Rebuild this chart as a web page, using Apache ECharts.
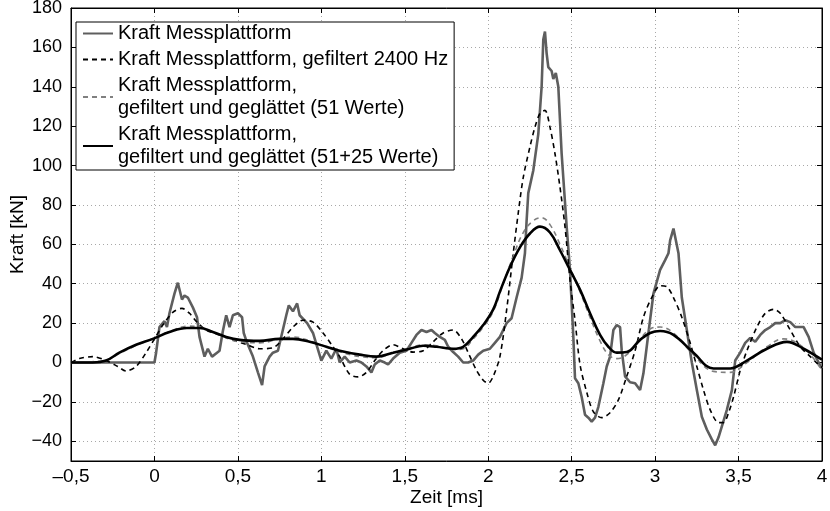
<!DOCTYPE html>
<html><head><meta charset="utf-8">
<script src="https://cdn.jsdelivr.net/npm/echarts@6/dist/echarts.min.js"></script>
<style>html,body{margin:0;padding:0;background:#fff}#c{width:830px;height:511px}</style>
</head><body><div id="c"></div>
<script>
// ---- Data ----
const seriesNames = [
  "Kraft Messplattform",
  "Kraft Messplattform, gefiltert 2400 Hz",
  "Kraft Messplattform,\ngefiltert und geglättet (51 Werte)",
  "Kraft Messplattform,\ngefiltert und geglättet (51+25 Werte)"
];
const yTicks = [-40,-20,0,20,40,60,80,100,120,140,160,180];

const rawX = [-0.5,-0.3,-0.1,0.0,0.01,0.03,0.06,0.075,0.09,0.12,0.14,0.165,0.18,0.2,0.23,0.255,0.27,0.30,0.32,0.345,0.375,0.39,0.41,0.43,0.45,0.47,0.50,0.525,0.535,0.555,0.59,0.62,0.645,0.66,0.69,0.71,0.74,0.765,0.79,0.805,0.83,0.855,0.87,0.915,0.95,0.975,1.0,1.03,1.06,1.09,1.11,1.14,1.17,1.21,1.24,1.27,1.30,1.32,1.35,1.38,1.40,1.43,1.47,1.51,1.54,1.57,1.60,1.63,1.66,1.68,1.71,1.74,1.76,1.79,1.82,1.85,1.88,1.91,1.94,1.97,2.01,2.04,2.07,2.11,2.14,2.17,2.20,2.22,2.23,2.24,2.27,2.30,2.32,2.33,2.34,2.35,2.36,2.38,2.39,2.405,2.42,2.44,2.47,2.49,2.51,2.52,2.54,2.56,2.58,2.60,2.62,2.64,2.66,2.69,2.71,2.73,2.75,2.77,2.79,2.80,2.82,2.85,2.88,2.91,2.93,2.96,2.99,3.03,3.06,3.08,3.09,3.11,3.12,3.14,3.16,3.19,3.22,3.25,3.28,3.31,3.34,3.36,3.38,3.43,3.46,3.48,3.51,3.54,3.57,3.60,3.63,3.66,3.69,3.72,3.75,3.78,3.81,3.84,3.89,3.92,3.95,3.98,4.0];
const rawY = [0,0,0,0,5,18,21,18,25,35,40.5,32,34,33,28,23,13,3,7,3,5,6,16,24,18,24,25,23,15,10,3,-5,-11.5,-2,3,5,6,15,24,29,26,30,24,20,15,8,1,6,2,7,0,3,0,1,0,-2,-5,-1,1,0,-1,2,5,6,10,14,16.5,15.5,16.5,15,13,11.5,8,5.3,3,0,0,1,4,6,7,10,13,20,22.5,33,43,55.5,72,86,97.5,116,140,164,168,157,150,148,144,147,140,106,69,47,13,-8,-10.5,-17.5,-26.5,-28,-30,-28,-22.5,-10.5,-2,3,16.5,19,18,6,-7,-10,-10.5,-14,-5.5,15,35,47,52,55.5,62,68,69,55.5,33,16.5,0,-14,-27.5,-34,-39,-42,-38,-24,-14,1,5,10,12.5,10.5,14,16.5,18,20,20,21.5,20.5,18,18,13,5,0,-3];

const f2400X = [-0.5,-0.45,-0.37,-0.29,-0.22,-0.17,-0.11,-0.05,0.0,0.05,0.11,0.165,0.21,0.255,0.31,0.39,0.47,0.555,0.63,0.71,0.77,0.83,0.89,0.95,1.01,1.07,1.11,1.17,1.22,1.27,1.32,1.37,1.43,1.49,1.55,1.61,1.67,1.73,1.79,1.84,1.88,1.93,1.97,2.0,2.03,2.07,2.11,2.15,2.18,2.21,2.25,2.28,2.31,2.34,2.37,2.40,2.43,2.46,2.49,2.52,2.55,2.59,2.63,2.68,2.73,2.78,2.83,2.88,2.93,2.98,3.03,3.07,3.11,3.16,3.21,3.25,3.29,3.33,3.38,3.41,3.44,3.47,3.51,3.55,3.61,3.66,3.71,3.75,3.81,3.87,3.93,3.99,4.0];
const f2400Y = [0,2,3,1,-2,-4.3,-2,5,12,19,25.5,27.5,25,20.5,16.5,14,11.5,9,7,7.5,12,18,21.5,20.5,15,8,3,-6,-7.3,-5,1,6,9,7,5.3,6,10.5,15,16.5,12,5,-4,-9,-10.5,-7,3,26.5,55.5,76,94,109.5,119.5,126.5,128,119.5,106,89,69,42,21.5,-1,-15,-25,-28,-25.5,-19,-7,6,23,33,39,38.5,33,23,10,-2,-14,-24,-30.5,-30.5,-25.5,-17.5,-4,6,18,25,27,25,16.5,8,3,-2,-2.5];

const s51X = [-0.5,-0.3,-0.2,-0.1,0.0,0.1,0.2,0.27,0.35,0.43,0.51,0.63,0.75,0.83,0.93,1.03,1.11,1.23,1.33,1.43,1.53,1.61,1.69,1.79,1.85,1.91,1.97,2.03,2.09,2.15,2.21,2.27,2.32,2.37,2.43,2.49,2.55,2.61,2.67,2.72,2.77,2.83,2.91,2.97,3.03,3.11,3.23,3.35,3.45,3.55,3.67,3.77,3.89,4.0];
const s51Y = [0,1,5,9,12.5,16,18.5,18,15.5,12.5,10.5,10,12,13,11,8,5.5,3,2.5,5,7.5,9,8.5,6.5,7,12,18,26,40,54,66,72,73.5,70,60,48,36,23,11,4,2,4,12,17,18,15,4,-4.5,-5,0,8,12,7.5,-4];

const s76X = [-0.5,-0.37,-0.29,-0.21,-0.11,-0.01,0.09,0.195,0.27,0.35,0.43,0.51,0.63,0.75,0.83,0.93,1.03,1.11,1.23,1.33,1.43,1.53,1.61,1.69,1.79,1.85,1.91,1.97,2.03,2.07,2.13,2.19,2.25,2.31,2.37,2.43,2.49,2.55,2.61,2.67,2.72,2.77,2.83,2.91,2.97,3.03,3.11,3.23,3.35,3.45,3.55,3.67,3.79,3.89,3.99,4.0];
const s76Y = [0,0,1,5,9,12,15.5,17.5,17.5,15.5,13,11.5,11,12,12,10.5,8,6,4,3,5,7,8.5,8,7,8,13,19,27,36,48.5,58.5,65.5,69,66,57,47,37,25,14,8,5,5.3,11.5,15,16,14,5,-3,-3,1,7,10.5,7,2,1.5];

// ---- Chart ----
const zip = (xs, ys) => xs.map((x, i) => [x, ys[i]]);
const FONT = "Liberation Sans, Arial, Helvetica, sans-serif";
const fmt = v => String(v).replace('.', ',').replace('-', '\u2013');

const chart = echarts.init(document.getElementById('c'), null, {renderer: 'canvas'});
const splitLine = {show: true, lineStyle: {color: '#a8a8a8', type: [1, 3], width: 1}};
chart.setOption({
  animation: false,
  backgroundColor: '#fff',
  grid: {left: 71, right: 8, top: 8, bottom: 50, show: true, borderColor: '#000', borderWidth: 1,
         backgroundColor: 'transparent', outerBoundsMode: 'none', containLabel: false},
  legend: {
    orient: 'vertical', left: 76, top: 22,
    padding: [0, 6, 1, 6], itemGap: 3, itemWidth: 30, itemHeight: 14,
    backgroundColor: '#fff', borderColor: '#000', borderWidth: 1, borderRadius: 0,
    itemStyle: {opacity: 0},
    textStyle: {fontFamily: FONT, fontSize: 20, color: '#000', lineHeight: 23},
    data: seriesNames
  },
  xAxis: [{
    type: 'value', min: -0.5, max: 4, interval: 0.5,
    name: 'Zeit [ms]', nameLocation: 'middle', nameGap: 27, nameMoveOverlap: false,
    nameTextStyle: {fontFamily: FONT, fontSize: 19, color: '#000'},
    axisLine: {show: true, onZero: false, lineStyle: {color: '#000', width: 1}},
    axisTick: {show: true, inside: true, length: 5, lineStyle: {color: '#000'}},
    axisLabel: {fontFamily: FONT, fontSize: 19, color: '#000', margin: 6, formatter: fmt},
    splitLine: splitLine
  }, {
    type: 'value', position: 'top', min: -0.5, max: 4, interval: 0.5,
    axisLine: {show: true, onZero: false, lineStyle: {color: '#000'}},
    axisTick: {show: true, inside: true, length: 5, lineStyle: {color: '#000'}},
    axisLabel: {show: false}, splitLine: {show: false}
  }],
  yAxis: [{
    type: 'value', min: -50, max: 180,
    name: 'Kraft [kN]', nameLocation: 'middle', nameGap: 44, nameMoveOverlap: false,
    nameTextStyle: {fontFamily: FONT, fontSize: 19, color: '#000'},
    axisLine: {show: true, onZero: false, lineStyle: {color: '#000', width: 1}},
    axisTick: {show: true, inside: true, length: 5, customValues: yTicks, lineStyle: {color: '#000'}},
    axisLabel: {fontFamily: FONT, fontSize: 18, color: '#000', margin: 9, customValues: yTicks,
      formatter: v => String(v).replace('-', '\u2212')},
    splitLine: splitLine
  }, {
    type: 'value', position: 'right', min: -50, max: 180,
    axisLine: {show: true, onZero: false, lineStyle: {color: '#000'}},
    axisTick: {show: true, inside: true, length: 5, customValues: yTicks, lineStyle: {color: '#000'}},
    axisLabel: {show: false}, splitLine: {show: false}
  }],
  series: [
    {name: seriesNames[0], type: 'line', data: zip(rawX, rawY), symbol: 'none', z: 2,
     lineStyle: {color: '#5e5e5e', width: 2.6}, itemStyle: {color: '#5e5e5e'}},
    {name: seriesNames[1], type: 'line', data: zip(f2400X, f2400Y), symbol: 'none', smooth: 0.3, z: 3,
     lineStyle: {color: '#000', width: 1.6, type: [5, 4]}, itemStyle: {color: '#000'}},
    {name: seriesNames[2], type: 'line', data: zip(s51X, s51Y), symbol: 'none', smooth: 0.4, z: 4,
     lineStyle: {color: '#808080', width: 1.6, type: [5, 4]}, itemStyle: {color: '#808080'}},
    {name: seriesNames[3], type: 'line', data: zip(s76X, s76Y), symbol: 'none', smooth: 0.4, z: 5,
     lineStyle: {color: '#000', width: 2.6}, itemStyle: {color: '#000'}}
  ]
});
</script></body></html>
